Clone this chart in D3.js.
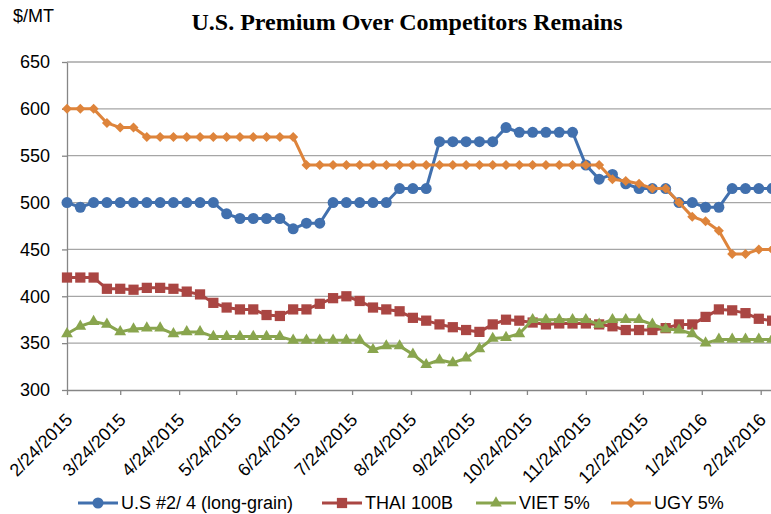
<!DOCTYPE html>
<html>
<head>
<meta charset="utf-8">
<script src="https://cdn.jsdelivr.net/npm/d3@7"></script>
<style>
  body { margin: 0; background: #fff; }
  svg { display: block; }
</style>
</head>
<body>
<svg id="chart" width="771" height="514"></svg>
<script>
// weekly price quotes, $/MT
const weeks = ["2/24/2015", "3/3/2015", "3/10/2015", "3/17/2015", "3/24/2015", "3/31/2015",
  "4/7/2015", "4/14/2015", "4/21/2015", "4/28/2015", "5/5/2015", "5/12/2015", "5/19/2015",
  "5/26/2015", "6/2/2015", "6/9/2015", "6/16/2015", "6/23/2015", "6/30/2015", "7/7/2015",
  "7/14/2015", "7/21/2015", "7/28/2015", "8/4/2015", "8/11/2015", "8/18/2015", "8/25/2015",
  "9/1/2015", "9/8/2015", "9/15/2015", "9/22/2015", "9/29/2015", "10/6/2015", "10/13/2015",
  "10/20/2015", "10/27/2015", "11/3/2015", "11/10/2015", "11/17/2015", "11/24/2015",
  "12/1/2015", "12/8/2015", "12/15/2015", "12/22/2015", "12/29/2015", "1/5/2016", "1/12/2016",
  "1/19/2016", "1/26/2016", "2/2/2016", "2/9/2016", "2/16/2016", "2/23/2016", "3/1/2016"];

const usLongGrain = [500, 495, 500, 500, 500, 500, 500, 500, 500, 500, 500, 500, 488, 483, 483,
  483, 483, 472, 478, 478, 500, 500, 500, 500, 500, 515, 515, 515, 565, 565, 565, 565, 565, 580,
  575, 575, 575, 575, 575, 540, 525, 530, 520, 515, 515, 515, 500, 500, 495, 495, 515, 515, 515, 515];
const thai100B = [420, 420, 420, 408, 408, 407, 409, 409, 408, 405, 402, 393, 388, 386, 386,
  380, 379, 386, 386, 392, 398, 400, 395, 388, 386, 384, 377, 374, 370, 367, 364, 362, 370, 375,
  374, 372, 370, 371, 371, 371, 370, 368, 364, 364, 364, 366, 370, 370, 378, 386, 385, 382, 376, 374];
const viet5 = [360, 368, 373, 370, 362, 365, 366, 366, 360, 362, 362, 357, 357, 357, 357,
  357, 357, 353, 353, 353, 353, 353, 353, 343, 347, 347, 338, 327, 332, 329, 334, 344, 355, 356,
  360, 375, 375, 375, 375, 375, 370, 375, 375, 375, 370, 365, 364, 360, 350, 354, 354, 354, 354, 354];
const ugy5 = [600, 600, 600, 585, 580, 580, 570, 570, 570, 570, 570, 570, 570, 570, 570,
  570, 570, 570, 540, 540, 540, 540, 540, 540, 540, 540, 540, 540, 540, 540, 540, 540, 540, 540,
  540, 540, 540, 540, 540, 540, 540, 525, 523, 520, 515, 515, 500, 485, 480, 470, 445, 445, 450, 450];

const seriesNames = ["U.S #2/ 4 (long-grain)", "THAI 100B", "VIET 5%", "UGY 5%"];
const tickLabels = ["2/24/2015", "3/24/2015", "4/24/2015", "5/24/2015", "6/24/2015", "7/24/2015",
  "8/24/2015", "9/24/2015", "10/24/2015", "11/24/2015", "12/24/2015", "1/24/2016", "2/24/2016"];
const yTicks = [300, 350, 400, 450, 500, 550, 600, 650];

const colors = ["#4170AE", "#AA4643", "#89A54E", "#DE843B"];
const symbols = [d3.symbolCircle, d3.symbolSquare, d3.symbolTriangle, d3.symbolSquare];
const symbolSizes = [95, 105, 60, 50];
const symbolRotate = [0, 0, 0, 45];

const parseDate = d3.utcParse("%m/%d/%Y");
const formatDate = d3.utcFormat("%-m/%-d/%Y");

const svg = d3.select("#chart"),
  margin = {top: 62, right: 0, bottom: 124, left: 67},
  width = +svg.attr("width"),
  height = +svg.attr("height");

const xScale = d3.scaleUtc()
  .domain([parseDate(tickLabels[0]), parseDate(tickLabels[tickLabels.length - 1])])
  .range([margin.left, 760.7]);

const yScale = d3.scaleLinear()
  .domain([300, 650])
  .range([height - margin.bottom, margin.top]);

// gridlines
svg.append("g")
  .selectAll("line")
  .data(yTicks.slice(1))
  .enter()
  .append("line")
  .attr("x1", margin.left)
  .attr("x2", width)
  .attr("y1", d => yScale(d))
  .attr("y2", d => yScale(d))
  .attr("stroke", "#a6a6a6")
  .attr("stroke-width", 1.3);

// y axis
const yAxis = svg.append("g")
  .attr("transform", `translate(${margin.left},0)`)
  .call(d3.axisLeft(yScale).tickValues(yTicks).tickSize(5).tickPadding(12).tickSizeOuter(0));
yAxis.selectAll("path, line").attr("stroke", "#868686").attr("stroke-width", 1.3);
yAxis.selectAll("text")
  .attr("font-family", "Liberation Sans, Arial")
  .attr("font-size", "18px")
  .attr("fill", "#000");

// x axis
const xAxis = svg.append("g")
  .attr("transform", `translate(0,${height - margin.bottom})`)
  .call(d3.axisBottom(xScale).tickValues(tickLabels.map(parseDate)).tickFormat(formatDate)
    .tickSize(5).tickSizeOuter(0));
xAxis.select(".domain").attr("d", `M${margin.left},0.5H${width}`);
xAxis.selectAll("path, line").attr("stroke", "#868686").attr("stroke-width", 1.3);
xAxis.selectAll("text")
  .attr("font-family", "Liberation Sans, Arial")
  .attr("font-size", "18px")
  .attr("fill", "#000")
  .attr("text-anchor", "end")
  .attr("dy", 0)
  .attr("y", 0)
  .attr("transform", "translate(6,31) rotate(-45)");

// series
const allSeries = [usLongGrain, thai100B, viet5, ugy5];
const dates = weeks.map(parseDate);

const line = d3.line()
  .x((d, i) => xScale(dates[i]))
  .y(d => yScale(d));

allSeries.forEach((values, s) => {
  const g = svg.append("g").attr("class", "series");
  g.append("path")
    .datum(values)
    .attr("fill", "none")
    .attr("stroke", colors[s])
    .attr("stroke-width", 3)
    .attr("stroke-linejoin", "round")
    .attr("d", line);
  g.selectAll("path.marker")
    .data(values)
    .enter()
    .append("path")
    .attr("class", "marker")
    .attr("d", d3.symbol().type(symbols[s]).size(symbolSizes[s]))
    .attr("transform", (d, i) => `translate(${xScale(dates[i])},${yScale(d)}) rotate(${symbolRotate[s]})`)
    .attr("fill", colors[s]);
});

// legend
const legendX = [78, 322, 476, 611];
const legend = svg.append("g")
  .attr("transform", "translate(0,503)");
seriesNames.forEach((name, s) => {
  legend.append("line")
    .attr("x1", legendX[s])
    .attr("x2", legendX[s] + 40)
    .attr("stroke", colors[s])
    .attr("stroke-width", 3);
  legend.append("path")
    .attr("d", d3.symbol().type(symbols[s]).size(symbolSizes[s]))
    .attr("transform", `translate(${legendX[s] + 20},0) rotate(${symbolRotate[s]})`)
    .attr("fill", colors[s]);
  legend.append("text")
    .attr("x", legendX[s] + 43)
    .attr("y", 6)
    .attr("font-family", "Liberation Sans, Arial")
    .attr("font-size", "18px")
    .text(name);
});

// unit label
svg.append("text")
  .attr("x", 13)
  .attr("y", 22)
  .attr("font-family", "Liberation Sans, Arial")
  .attr("font-size", "18px")
  .text("$/MT");

// title
svg.append("text")
  .attr("x", 407)
  .attr("y", 30)
  .attr("text-anchor", "middle")
  .attr("font-family", "Liberation Serif, Times New Roman")
  .attr("font-size", "24px")
  .attr("font-weight", "bold")
  .text("U.S. Premium Over Competitors Remains");
</script>
</body>
</html>
